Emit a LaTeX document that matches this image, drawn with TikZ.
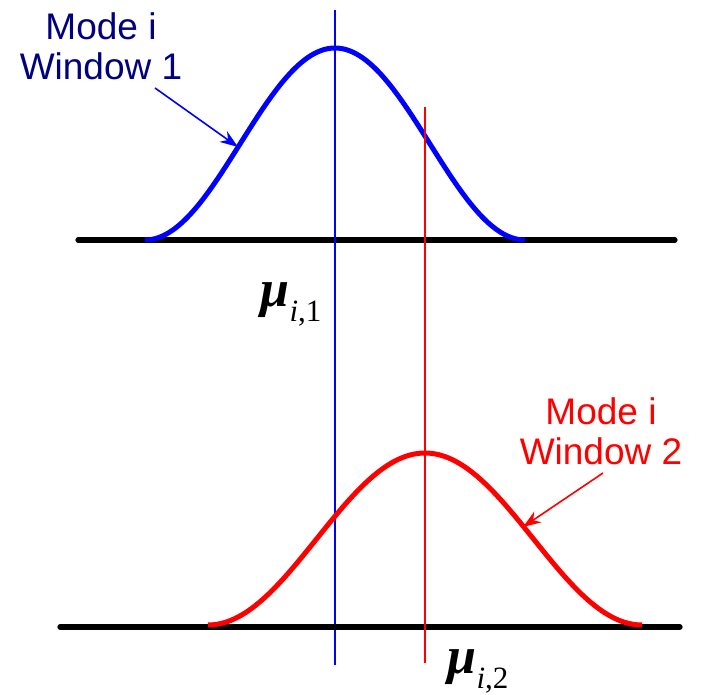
\documentclass[tikz,border=0pt]{standalone}
\usepackage{fontspec}
\setmainfont{Liberation Sans}
\newfontfamily\mufont{Liberation Serif}
\usetikzlibrary{arrows.meta,positioning}
\definecolor{navy}{RGB}{0,0,128}
\tikzset{
  axis line/.style={black,line width=2.6pt,line cap=round},
  mode curve/.style={line width=2.5pt},
  mean line/.style={line width=0.7pt},
  mode label/.style={font=\fontsize{18.5}{20}\selectfont,align=center,inner sep=0pt},
  mode arrow/.style={-{Stealth[length=9pt,width=6.5pt]},line width=0.8pt},
  mean label/.style={font=\mufont\fontsize{26}{28}\selectfont,inner sep=0pt,anchor=base},
}
\newcommand{\meanof}[1]{{\bfseries\itshape μ}\raisebox{-7.5pt}{\fontsize{15.5}{16}\selectfont\itshape i\upshape,#1}}

\begin{document}
\begin{tikzpicture}[x=0.5pt,y=-0.5pt]
  \useasboundingbox (0,0) rectangle (708,695);
  % window 1
  \draw[axis line] (78,240) -- (675,240);
  \draw[mode curve,blue] plot[domain=145:525,samples=80,smooth]
    (\x,{240-96*(1+cos((\x-335)/190*180))});
  \draw[mean line,blue] (335,10) -- (335,665);
  \node[mode label,navy] (win1) at (101,46) {Mode i\\Window 1};
  \coordinate (from1) at (155,88);
  \coordinate (tip1) at (238,147);
  \draw[mode arrow,blue] (from1) -- (tip1);
  \node[mean label] (mu1) at (291,307) {\meanof{1}};
  % window 2
  \draw[axis line] (60,627) -- (680,627);
  \draw[mode curve,red] plot[domain=208:642,samples=80,smooth]
    (\x,{625-86*(1+cos((\x-425)/217*180))});
  \draw[mean line,red] (425,107) -- (425,663);
  \node[mode label,red] (win2) at (601,431) {Mode i\\Window 2};
  \coordinate (from2) at (603,473);
  \coordinate (tip2) at (523,527);
  \draw[mode arrow,red] (from2) -- (tip2);
  \node[mean label] (mu2) at (478,674) {\meanof{2}};
\end{tikzpicture}
\end{document}
